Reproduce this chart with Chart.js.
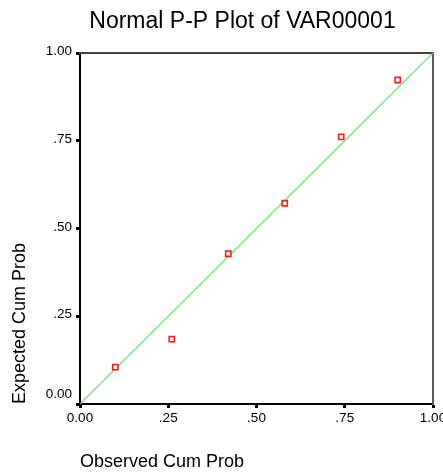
<!DOCTYPE html>
<html>
<head>
<meta charset="utf-8">
<title>Normal P-P Plot of VAR00001</title>
<script src="https://cdn.jsdelivr.net/npm/chart.js@4.4.1/dist/chart.umd.min.js"></script>
<style>
  html, body { margin: 0; padding: 0; background: #fff; }
  canvas { display: block; }
</style>
</head>
<body>
<canvas id="ppChart" width="443" height="472"></canvas>
<script>
// Observed vs expected cumulative probabilities
const observedCumProb = [0.10, 0.26, 0.42, 0.58, 0.74, 0.90];
const expectedCumProb = [0.105, 0.185, 0.428, 0.572, 0.761, 0.923];
// reference diagonal
const diagonalX = [0, 1];
const diagonalY = [0, 1];
const tickValues = [0, 0.25, 0.5, 0.75, 1];
const tickLabels = ['0.00', '.25', '.50', '.75', '1.00'];

const FONT = 'Liberation Sans, Arial, Helvetica, sans-serif';

(function(){
  const points = observedCumProb.map((x, i) => ({ x: x, y: expectedCumProb[i] }));
  const diagonal = diagonalX.map((x, i) => ({ x: x, y: diagonalY[i] }));

  function labelFor(value){
    const i = tickValues.findIndex(v => Math.abs(v - value) < 1e-9);
    return i >= 0 ? tickLabels[i] : '';
  }

  // axis that only draws a frame line
  function frameAxis(position, color, size){
    return {
      type: 'linear', position: position, min: 0, max: 1,
      ticks: { display: false },
      grid: { display: false, drawTicks: false },
      border: { display: true, color: color, width: 2 },
      afterFit(scale){
        if (scale.isHorizontal()) scale.height = size; else scale.width = size;
        scale.paddingLeft = scale.paddingRight = scale.paddingTop = scale.paddingBottom = 0;
      }
    };
  }

  const ctx = document.getElementById('ppChart').getContext('2d');
  new Chart(ctx, {
    type: 'scatter',
    data: {
      datasets: [
        {
          label: 'VAR00001',
          data: points,
          pointStyle: 'rect',
          pointRadius: 3.7,
          pointBorderWidth: 1.6,
          pointBorderColor: '#ff1a1a',
          pointBackgroundColor: '#ffffff'
        },
        {
          label: 'Diagonal',
          data: diagonal,
          showLine: true,
          borderColor: '#52ea52',
          borderWidth: 1.2,
          pointRadius: 0
        }
      ]
    },
    options: {
      responsive: false,
      animation: false,
      devicePixelRatio: 1,
      // left padding shifts the centred title towards the plot
      layout: { padding: { left: 42, right: 0, top: 0, bottom: 0 } },
      plugins: {
        legend: { display: false },
        tooltip: { enabled: false },
        title: {
          display: true,
          text: 'Normal P-P Plot of VAR00001',
          color: '#000',
          font: { family: FONT, size: 23, weight: 'normal' },
          padding: { top: 8, bottom: 17.4 }
        }
      },
      scales: {
        x: {
          type: 'linear', position: 'bottom', min: 0, max: 1,
          afterBuildTicks(scale){ scale.ticks = tickValues.map(v => ({ value: v })); },
          ticks: {
            color: '#000', padding: 2, maxRotation: 0, autoSkip: false,
            font: { family: FONT, size: 13.5 },
            callback: (value) => labelFor(value)
          },
          grid: { display: true, drawOnChartArea: false, drawTicks: true, tickLength: 4, tickWidth: 3, tickColor: '#000' },
          border: { display: true, color: '#000', width: 2 },
          title: {
            display: true, text: 'Observed Cum Prob', align: 'start', color: '#000',
            font: { family: FONT, size: 18 },
            padding: { top: 0, bottom: -1 }
          },
          afterFit(scale){
            scale.height = 68;
            scale.paddingLeft = 0; scale.paddingRight = 0;
          }
        },
        y: {
          type: 'linear', position: 'left', min: 0, max: 1,
          afterBuildTicks(scale){ scale.ticks = tickValues.map(v => ({ value: v })); },
          ticks: {
            color: '#000', padding: 4, labelOffset: -1.5, autoSkip: false,
            font: { family: FONT, size: 13.5 },
            // the bottom label sits a bit higher so it clears the x labels
            callback: (value) => value === 0 ? [labelFor(value), ''] : labelFor(value)
          },
          grid: { display: true, drawOnChartArea: false, drawTicks: true, tickLength: 4, tickWidth: 3, tickColor: '#000' },
          border: { display: true, color: '#000', width: 2 },
          title: {
            display: true, text: 'Expected Cum Prob', align: 'start', color: '#000',
            font: { family: FONT, size: 18 },
            padding: { top: -33, bottom: 0 }
          },
          afterFit(scale){
            scale.width = 38;
            scale.paddingTop = 0; scale.paddingBottom = 0;
          }
        },
        xTop: frameAxis('top', '#444444', 0),
        yRight: frameAxis('right', '#5a5a5a', 10)
      }
    }
  });
})();
</script>
</body>
</html>
